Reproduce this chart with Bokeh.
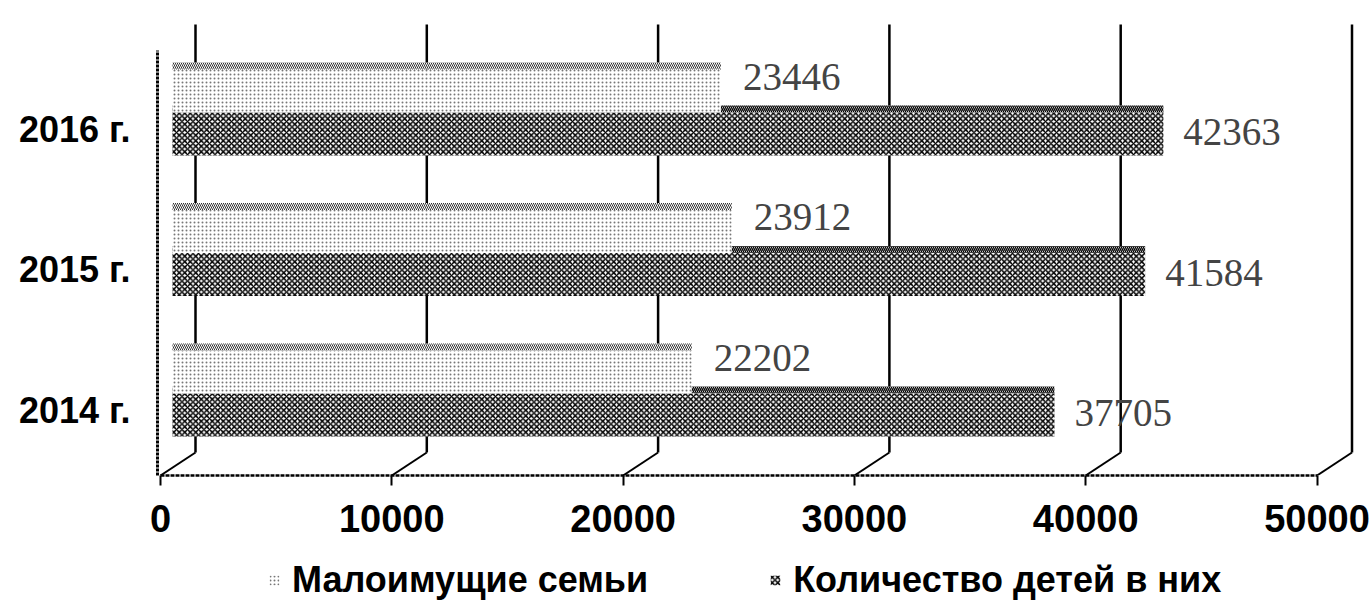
from bokeh.plotting import figure
from bokeh.layouts import column
from bokeh.models import Range1d, LinearAxis, FixedTicker, Legend, LegendItem
from bokeh.embed import file_html
from bokeh.resources import INLINE
from bokeh.core.properties import value

# ---- data ----
years = ["2014 г.", "2015 г.", "2016 г."]
families = [22202, 23912, 23446]          # Малоимущие семьи
children = [37705, 41584, 42363]          # Количество детей в них
x_ticks = [0, 10000, 20000, 30000, 40000, 50000]
series_names = ["Малоимущие семьи", "Количество детей в них"]

# ---- geometry / style constants ----
W, H = 1371, 550
LEG_H = 51
PX = 10000 / 231.3            # data units per screen pixel (front axis)
PXB = 10000 / 233.9           # data units per screen pixel (bar front faces)
FRAME_L, FRAME_R = 157, 1360  # px
FRAME_T, FRAME_B = 20, 475
AX0 = 160                     # px of value 0 on front axis
BAR0 = 172                    # px of value 0 for bar front faces
DEPTH = 35                    # px, back wall shift to the right
DEPTH_Y = 0.164               # data units, back wall shift upwards
BAR_H = 0.306
TOP_FACE = 0.05

MAL_STYLE = dict(fill_color="white", line_color=None, hatch_pattern=".",
                 hatch_scale=4, hatch_color="#777777", hatch_weight=1)
KOL_STYLE = dict(fill_color="white", line_color=None, hatch_pattern="x",
                 hatch_scale=5.5, hatch_color="black", hatch_weight=1.5)

ypos = list(range(len(years)))

p = figure(width=W, height=H, output_backend="svg", toolbar_location=None,
           x_axis_location=None, y_axis_location=None,
           min_border_left=FRAME_L, min_border_right=W - FRAME_R,
           min_border_top=FRAME_T, min_border_bottom=H - FRAME_B)
p.outline_line_color = None
p.xgrid.visible = False
p.ygrid.visible = False

p.x_range = Range1d((FRAME_L - BAR0) * PXB, (FRAME_R - BAR0) * PXB)
p.y_range = Range1d(-0.584, 2.655)
p.extra_x_ranges = {"front": Range1d((FRAME_L - AX0) * PX, (FRAME_R - AX0) * PX)}
p.extra_y_ranges = {"lab": Range1d(-0.463, 2.776)}

# back wall grid lines + floor slants (derived from tick values)
floor = -0.584
back_floor = floor + DEPTH_Y
wall_top = 2.626
bx = [t + DEPTH * PX for t in x_ticks]
p.segment(x0=bx, y0=[back_floor] * len(bx), x1=bx, y1=[wall_top] * len(bx),
          x_range_name="front", line_color="black", line_width=2.5)
p.segment(x0=x_ticks, y0=[floor] * len(bx), x1=bx, y1=[back_floor] * len(bx),
          x_range_name="front", line_color="black", line_width=2)

# bars
kol_y = [y - BAR_H / 2 for y in ypos]
mal_y = [y + BAR_H / 2 for y in ypos]

# kol top face
p.quad(left=[0] * 3, right=children, bottom=ypos, top=[y + TOP_FACE for y in ypos],
       fill_color="white", line_color=None, hatch_pattern="\\", hatch_scale=4,
       hatch_color="black", hatch_weight=1.4)
kol = p.hbar(y=kol_y, right=children, left=0, height=BAR_H, **KOL_STYLE)
mal = p.hbar(y=mal_y, right=families, left=0, height=BAR_H, **MAL_STYLE)
# malo top face
p.quad(left=[0] * 3, right=families, bottom=[y + BAR_H for y in ypos],
       top=[y + BAR_H + TOP_FACE for y in ypos],
       fill_color="white", line_color=None, hatch_pattern="\\", hatch_scale=4,
       hatch_color="#333333", hatch_weight=1)

# data labels
p.text(x=families, y=[y + 0.256 for y in ypos], text=[str(v) for v in families],
       x_offset=22, text_baseline="middle", text_align="left",
       text_font=value("Liberation Serif"), text_font_size="39px", text_color="#444444")
p.text(x=children, y=[y - 0.142 for y in ypos], text=[str(v) for v in children],
       x_offset=20, text_baseline="middle", text_align="left",
       text_font=value("Liberation Serif"), text_font_size="39px", text_color="#444444")

# front (bottom) axis
xa = LinearAxis(x_range_name="front", ticker=FixedTicker(ticks=x_ticks),
                bounds=(x_ticks[0], x_ticks[-1]))
xa.axis_line_width = 2.5
xa.axis_line_color = "black"
xa.axis_line_dash = "4 1"
xa.major_tick_out = 10
xa.major_tick_in = 0
xa.minor_tick_out = 0
xa.minor_tick_in = 0
xa.major_tick_line_width = 2
xa.major_label_standoff = 19
xa.major_label_text_font = "Liberation Sans"
xa.major_label_text_font_style = "bold"
xa.major_label_text_font_size = "38px"
xa.major_label_text_color = "black"
p.add_layout(xa, "below")

# left axis (category labels) = left wall edge
ya = LinearAxis(y_range_name="lab", ticker=FixedTicker(ticks=ypos),
                major_label_overrides={i: years[i] for i in ypos},
                bounds=(-0.463, 2.56))
ya.axis_line_width = 3
ya.axis_line_color = "black"
ya.axis_line_dash = "3 1"
ya.major_tick_out = 0
ya.major_tick_in = 0
ya.minor_tick_out = 0
ya.minor_tick_in = 0
ya.major_label_standoff = 27
ya.major_label_text_font = "Liberation Sans"
ya.major_label_text_font_style = "bold"
ya.major_label_text_font_size = "36px"
ya.major_label_text_color = "black"
p.add_layout(ya, "left")

# legend strip under the chart (frame aligned with the chart's frame)
lf = figure(width=W, height=LEG_H, output_backend="svg", toolbar_location=None,
            x_axis_location=None, y_axis_location=None,
            min_border_left=0, min_border_right=0, min_border_top=0, min_border_bottom=0,
            x_range=Range1d(0, 1), y_range=Range1d(0, 1))
lf.outline_line_color = None
lf.xgrid.visible = False
lf.ygrid.visible = False
# legend proxies, kept outside the visible range
mal_proxy = lf.hbar(y=[-5], right=[1], left=[0], height=BAR_H, **MAL_STYLE)
kol_proxy = lf.hbar(y=[-5], right=[1], left=[0], height=BAR_H, **KOL_STYLE)

legend = Legend(items=[LegendItem(label=series_names[0], renderers=[mal_proxy]),
                       LegendItem(label=series_names[1], renderers=[kol_proxy])],
                orientation="horizontal", location=(268 - FRAME_L, 0),
                border_line_alpha=0, background_fill_alpha=0,
                label_text_font="Liberation Sans", label_text_font_style="bold",
                label_text_font_size="36px", label_text_color="black",
                glyph_width=12, glyph_height=12, spacing=121, padding=0, margin=0,
                label_standoff=12)
lf.add_layout(legend, "center")

layout = column(p, lf, spacing=0)
open("out.html", "w").write(file_html(layout, INLINE))
